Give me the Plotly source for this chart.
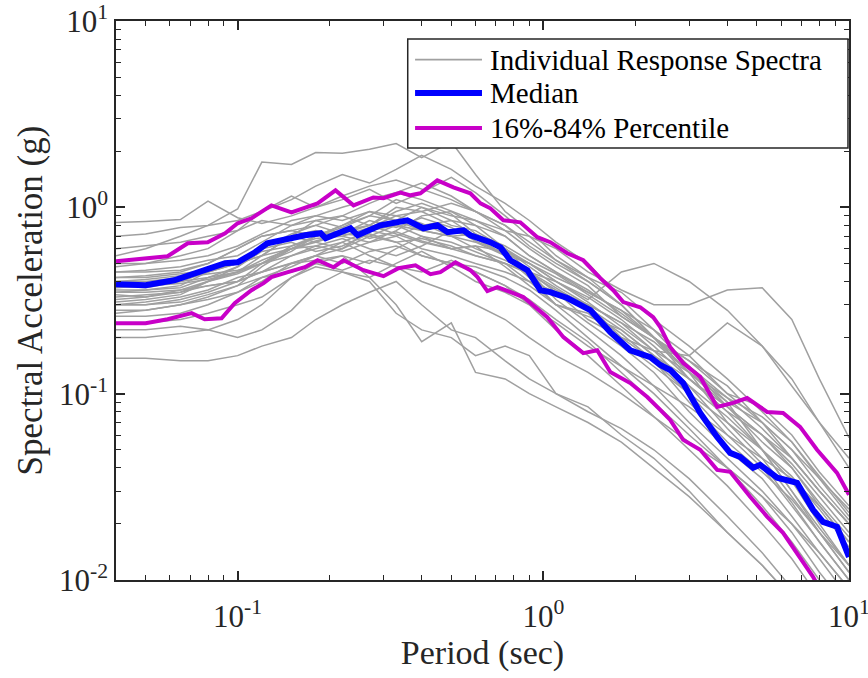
import plotly.graph_objects as go

# ---------------- data ----------------
periods = [0.04, 0.05, 0.065, 0.08, 0.1, 0.12, 0.15, 0.18, 0.22, 0.27, 0.33, 0.4, 0.5,
           0.6, 0.75, 0.9, 1.1, 1.4, 1.8, 2.3, 3.0, 4.0, 5.2, 6.5, 8.0, 10.0]

g01 = [0.83,0.84,0.86,1.08,0.88,0.82,0.9,1.0,1.15,1.3,1.4,1.25,1.1,0.95,0.8,0.62,0.5,0.4,0.3,0.2,0.13,0.085,0.06,0.04,0.025,0.016]
g02 = [0.55,0.6,0.7,0.8,0.98,1.75,1.7,1.97,1.95,2.05,2.2,1.85,2.25,1.5,0.95,0.75,0.55,0.42,0.3,0.2,0.13,0.07,0.045,0.028,0.018,0.011]
g03 = [0.7,0.72,0.78,0.8,0.85,0.95,1.1,1.3,1.5,1.35,1.6,1.9,1.6,1.3,1.05,0.85,0.65,0.5,0.32,0.22,0.14,0.09,0.05,0.03,0.018,0.011]
g04 = [0.48,0.5,0.55,0.6,0.75,0.95,1.15,1.0,1.1,1.25,1.05,1.2,1.45,1.2,0.9,0.7,0.52,0.4,0.3,0.2,0.12,0.08,0.05,0.03,0.019,0.012]
g05 = [0.42,0.43,0.45,0.5,0.6,0.7,0.75,0.7,0.8,0.9,0.85,1.0,0.9,0.85,0.75,0.7,0.6,0.45,0.36,0.3,0.3,0.36,0.37,0.25,0.12,0.058]
g06 = [0.35,0.36,0.38,0.45,0.5,0.62,0.7,0.85,0.9,0.8,1.0,0.95,0.8,0.75,0.6,0.5,0.4,0.32,0.45,0.5,0.4,0.28,0.18,0.12,0.07,0.04]
g07 = [0.3,0.3,0.32,0.35,0.4,0.5,0.6,0.65,0.72,0.7,0.8,0.75,0.7,0.65,0.55,0.45,0.35,0.25,0.2,0.17,0.16,0.24,0.18,0.11,0.07,0.045]
g08 = [0.45,0.46,0.48,0.52,0.55,0.65,0.8,0.85,0.78,0.9,1.1,1.0,0.85,0.8,0.7,0.55,0.45,0.35,0.28,0.2,0.15,0.1,0.085,0.06,0.038,0.025]
g09 = [0.38,0.37,0.4,0.45,0.5,0.55,0.6,0.7,0.8,0.95,0.85,0.75,0.7,0.72,0.6,0.48,0.38,0.3,0.2,0.15,0.1,0.06,0.045,0.035,0.025,0.016]
g10 = [0.32,0.33,0.36,0.4,0.45,0.55,0.7,0.75,0.7,0.65,0.75,0.9,0.95,0.8,0.6,0.45,0.32,0.24,0.18,0.13,0.08,0.05,0.035,0.022,0.014,0.009]
g11 = [0.28,0.28,0.3,0.33,0.38,0.48,0.6,0.62,0.58,0.65,0.7,0.6,0.55,0.5,0.45,0.4,0.3,0.22,0.16,0.11,0.07,0.045,0.03,0.02,0.013,0.008]
g12 = [0.4,0.4,0.42,0.44,0.46,0.5,0.55,0.62,0.68,0.6,0.55,0.62,0.75,0.68,0.55,0.42,0.3,0.26,0.22,0.16,0.11,0.075,0.05,0.034,0.02,0.012]
g13 = [0.36,0.36,0.37,0.42,0.48,0.6,0.65,0.58,0.62,0.72,0.65,0.55,0.5,0.48,0.42,0.36,0.28,0.2,0.14,0.1,0.065,0.04,0.025,0.016,0.01,0.0065]
g14 = [0.3,0.31,0.33,0.36,0.42,0.45,0.5,0.52,0.55,0.5,0.6,0.7,0.65,0.58,0.5,0.4,0.35,0.3,0.24,0.17,0.11,0.065,0.042,0.026,0.016,0.01]
g15 = [0.26,0.26,0.27,0.3,0.35,0.42,0.45,0.5,0.46,0.52,0.48,0.45,0.52,0.45,0.38,0.32,0.25,0.19,0.13,0.09,0.06,0.04,0.028,0.018,0.011,0.007]
g16 = [0.24,0.24,0.25,0.27,0.3,0.33,0.42,0.48,0.45,0.42,0.5,0.58,0.48,0.4,0.35,0.3,0.22,0.16,0.11,0.075,0.05,0.032,0.02,0.013,0.008,0.005]
g17 = [0.155,0.155,0.15,0.15,0.16,0.18,0.2,0.25,0.3,0.35,0.4,0.3,0.22,0.2,0.15,0.12,0.1,0.085,0.06,0.045,0.03,0.018,0.012,0.008,0.005,0.003]
g18 = [0.2,0.2,0.21,0.22,0.2,0.22,0.28,0.38,0.45,0.4,0.27,0.22,0.2,0.16,0.18,0.16,0.1,0.08,0.065,0.05,0.035,0.022,0.014,0.009,0.006,0.004]
g19 = [0.22,0.22,0.23,0.22,0.25,0.3,0.42,0.5,0.55,0.42,0.3,0.19,0.24,0.13,0.12,0.1,0.085,0.07,0.055,0.04,0.028,0.018,0.012,0.008,0.005,0.003]
g20 = [0.33,0.34,0.35,0.38,0.4,0.45,0.55,0.6,0.65,0.55,0.48,0.4,0.35,0.3,0.25,0.2,0.16,0.13,0.1,0.075,0.055,0.04,0.028,0.02,0.014,0.009]
g21 = [0.5,0.5,0.52,0.55,0.62,0.72,0.85,0.9,0.85,0.95,0.9,0.95,1.05,0.95,0.75,0.6,0.48,0.38,0.26,0.2,0.15,0.11,0.07,0.045,0.03,0.02]
g22 = [0.27,0.28,0.3,0.32,0.35,0.4,0.5,0.55,0.6,0.7,0.65,0.68,0.62,0.55,0.5,0.45,0.4,0.33,0.25,0.18,0.12,0.08,0.06,0.045,0.03,0.02]
g23 = [0.42,0.42,0.44,0.46,0.5,0.55,0.7,0.65,0.6,0.75,0.8,0.7,0.6,0.62,0.58,0.5,0.42,0.35,0.28,0.22,0.16,0.1,0.07,0.05,0.035,0.024]
g24 = [0.35,0.35,0.36,0.38,0.4,0.45,0.5,0.55,0.65,0.75,0.7,0.8,0.85,0.7,0.55,0.42,0.34,0.28,0.21,0.15,0.09,0.055,0.038,0.027,0.018,0.012]
g25 = [0.6,0.62,0.65,0.7,0.75,0.85,0.8,0.9,1.0,1.1,1.2,1.1,0.95,0.85,0.7,0.55,0.45,0.36,0.27,0.2,0.14,0.095,0.065,0.045,0.03,0.02]
g26 = [0.38,0.39,0.4,0.42,0.45,0.5,0.58,0.7,0.75,0.8,0.72,0.65,0.6,0.55,0.5,0.44,0.36,0.3,0.24,0.19,0.13,0.09,0.07,0.05,0.032,0.021]
g27 = [0.3,0.3,0.31,0.34,0.38,0.42,0.48,0.55,0.5,0.58,0.62,0.55,0.5,0.45,0.38,0.3,0.24,0.18,0.14,0.11,0.085,0.06,0.04,0.025,0.016,0.01]
g28 = [0.45,0.45,0.46,0.5,0.6,0.7,0.75,0.8,0.9,1.05,1.2,1.35,1.15,0.95,0.8,0.65,0.52,0.42,0.35,0.25,0.18,0.12,0.08,0.055,0.035,0.022]
g29 = [0.34,0.33,0.35,0.4,0.48,0.58,0.62,0.68,0.7,0.78,0.9,0.82,0.7,0.6,0.52,0.45,0.37,0.29,0.22,0.16,0.12,0.085,0.055,0.04,0.026,0.017]
g30 = [0.4,0.41,0.43,0.47,0.52,0.6,0.72,0.8,0.72,0.8,0.95,1.05,0.92,0.72,0.62,0.52,0.44,0.34,0.26,0.2,0.14,0.085,0.06,0.042,0.028,0.018]
g31 = [0.31,0.32,0.34,0.4,0.44,0.5,0.62,0.7,0.78,0.68,0.74,0.66,0.6,0.62,0.48,0.38,0.3,0.27,0.19,0.14,0.1,0.07,0.05,0.036,0.024,0.015]
g32 = [0.37,0.38,0.39,0.41,0.45,0.52,0.6,0.66,0.72,0.85,0.78,0.88,0.78,0.66,0.56,0.5,0.4,0.31,0.23,0.17,0.13,0.095,0.075,0.055,0.036,0.023]

individual_spectra = [g01, g02, g03, g04, g05, g06, g07, g08, g09, g10, g11, g12, g13, g14, g15, g16,
                      g17, g18, g19, g20, g21, g22, g23, g24, g25, g26, g27, g28, g29, g30, g31, g32]

median_T = [0.04,0.05,0.062,0.072,0.091,0.1,0.114,0.125,0.146,0.166,0.187,0.194,0.234,0.247,0.293,
            0.359,0.405,0.45,0.486,0.548,0.577,0.623,0.671,0.724,0.78,0.887,0.978,1.054,1.198,1.424,
            1.656,1.925,2.238,2.413,2.6,2.868,3.26,3.704,4.085,4.403,4.857,5.12,5.818,6.763,7.628,
            8.222,9.137,10.0]
median_Sa = [0.387,0.382,0.406,0.443,0.501,0.507,0.574,0.641,0.682,0.708,0.726,0.682,0.772,0.708,0.801,
             0.852,0.772,0.801,0.735,0.753,0.708,0.682,0.65,0.61,0.52,0.46,0.359,0.351,0.326,0.281,
             0.214,0.171,0.157,0.1425,0.134,0.114,0.0788,0.0586,0.0481,0.0458,0.04,0.0415,0.0354,0.0332,0.0238,
             0.0205,0.0193,0.0133]

p84_T = [0.04,0.05,0.059,0.0687,0.0798,0.091,0.1,0.111,0.129,0.15,0.166,0.1826,0.209,0.2394,0.278,
         0.3,0.341,0.3675,0.396,0.45,0.508,0.577,0.623,0.671,0.74,0.841,0.956,1.054,1.198,1.351,
         1.536,1.693,1.826,2.075,2.288,2.413,2.6,2.868,3.26,3.704,4.178,4.642,5.395,6.085,6.917,
         7.86,9.137,10.0]
p84_Sa = [0.514,0.533,0.546,0.641,0.65,0.726,0.821,0.873,1.025,0.94,1.0,1.05,1.233,1.025,1.13,
          1.12,1.2,1.16,1.19,1.395,1.28,1.19,1.05,0.988,0.852,0.831,0.691,0.65,0.567,0.52,
          0.417,0.359,0.31,0.291,0.2575,0.2277,0.178,0.146,0.123,0.0849,0.0892,0.0948,0.0798,0.0788,0.0663,
          0.05,0.0376,0.0287]

p16_T = [0.04,0.05,0.059,0.0707,0.078,0.0886,0.0978,0.111,0.1216,0.129,0.146,0.166,0.1826,0.206,0.222,
         0.247,0.258,0.3,0.336,0.3817,0.4274,0.4604,0.516,0.577,0.609,0.656,0.7075,0.86,1.03,1.163,
         1.351,1.501,1.656,1.925,2.188,2.413,2.6,2.868,3.26,3.704,4.085,4.75,5.395,6.085,6.917,
         7.628,8.04]
p16_Sa = [0.239,0.239,0.251,0.2705,0.251,0.254,0.306,0.359,0.392,0.422,0.449,0.477,0.52,0.477,0.52,
          0.477,0.46,0.427,0.471,0.489,0.438,0.449,0.507,0.46,0.422,0.355,0.373,0.33,0.2575,0.201,
          0.165,0.171,0.1307,0.114,0.096,0.0818,0.0723,0.0565,0.05,0.039,0.0381,0.028,0.0219,0.0179,0.0133,
          0.0104,0.0089]

x_tick_vals = [0.1, 1, 10]
x_tick_text = ["10<sup>-1</sup>", "10<sup>0</sup>", "10<sup>1</sup>"]
y_tick_vals = [0.01, 0.1, 1, 10]
y_tick_text = ["10<sup>-2</sup>", "10<sup>-1</sup>", "10<sup>0</sup>", "10<sup>1</sup>"]

legend_labels = ["Individual Response Spectra", "Median", "16%-84% Percentile"]

# ---------------- figure ----------------
FONT = "Liberation Serif, Times New Roman, serif"
INK = "#262626"
GRAY = "rgb(160,160,160)"
BLUE = "#0000ff"
MAG = "#c800c8"

fig = go.Figure()
for i, sa in enumerate(individual_spectra):
    fig.add_trace(go.Scatter(
        x=periods, y=sa, mode="lines",
        line=dict(color=GRAY, width=1.5),
        name=legend_labels[0], legendgroup="ind", showlegend=False, hoverinfo="skip"))

fig.add_trace(go.Scatter(x=median_T, y=median_Sa, mode="lines",
                         line=dict(color=BLUE, width=6), name=legend_labels[1], showlegend=False))
fig.add_trace(go.Scatter(x=p84_T, y=p84_Sa, mode="lines",
                         line=dict(color=MAG, width=4), name=legend_labels[2], showlegend=False))
fig.add_trace(go.Scatter(x=p16_T, y=p16_Sa, mode="lines",
                         line=dict(color=MAG, width=4), name=legend_labels[2], showlegend=False))

minor_vals = [m * 10 ** e for e in (-2, -1, 0) for m in range(2, 10)]

axis_common = dict(
    type="log", showgrid=False, zeroline=False, automargin=False,
    showline=True, linecolor=INK, linewidth=1.5, mirror="ticks",
    ticks="inside", ticklen=9, tickwidth=1.5, tickcolor=INK,
    tickfont=dict(family=FONT, size=31, color=INK),
    tickmode="array", ticklabeloverflow="allow",
)
minor_common = dict(ticks="inside", ticklen=5, tickwidth=1.2, tickcolor=INK,
                    tickmode="array", tickvals=minor_vals, showgrid=False)

# custom MATLAB-style legend (paper coordinates)
leg_box = dict(x0=0.398, x1=0.9986, y0=0.7728, y1=0.9678)
leg_line_x = (0.408, 0.4993)
leg_text_x = 0.5075
leg_rows_y = [0.931, 0.8712, 0.8086]
leg_styles = [dict(color=GRAY, width=1.8), dict(color=BLUE, width=6), dict(color=MAG, width=4)]

shapes = [dict(type="rect", xref="paper", yref="paper", layer="above",
               x0=leg_box["x0"], x1=leg_box["x1"], y0=leg_box["y0"], y1=leg_box["y1"],
               fillcolor="white", line=dict(color=INK, width=1.5))]
annotations = []
for lab, st, yy in zip(legend_labels, leg_styles, leg_rows_y):
    shapes.append(dict(type="line", xref="paper", yref="paper", layer="above",
                       x0=leg_line_x[0], x1=leg_line_x[1], y0=yy, y1=yy, line=st))
    annotations.append(dict(text=lab, xref="paper", yref="paper", x=leg_text_x, y=yy,
                            xanchor="left", yanchor="middle", showarrow=False,
                            font=dict(family=FONT, size=29, color="black")))

fig.update_layout(
    width=868, height=678,
    paper_bgcolor="white", plot_bgcolor="white",
    margin=dict(l=116, r=19, t=21, b=98),
    font=dict(family=FONT, color=INK),
    showlegend=False,
    xaxis=dict(**axis_common, range=[-1.39794, 1], ticklabelstandoff=8,
               tickvals=x_tick_vals, ticktext=x_tick_text, minor=minor_common,
               title=dict(text="Period (sec)", font=dict(family=FONT, size=34, color=INK),
                          standoff=4)),
    yaxis=dict(**axis_common, range=[-2, 1],
               tickvals=y_tick_vals, ticktext=y_tick_text, minor=minor_common,
               title=dict(text="Spectral Acceleration (g)", font=dict(family=FONT, size=35, color=INK),
                          standoff=6)),
    shapes=shapes,
    annotations=annotations,
)

fig.write_html("out.html")
